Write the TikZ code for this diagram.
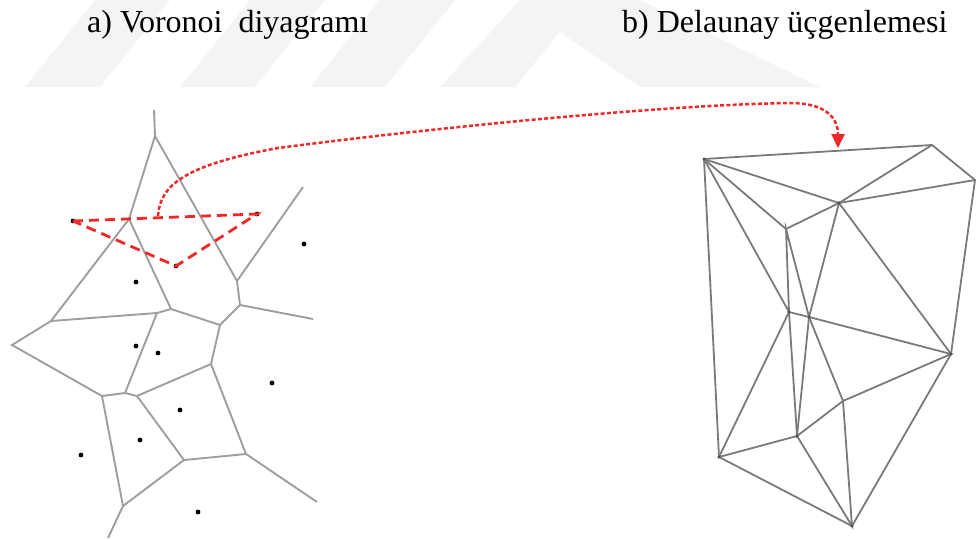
\documentclass[tikz,border=0pt]{standalone}
\usepackage{fontspec}
\setmainfont{Liberation Serif}
\usetikzlibrary{arrows.meta}
\definecolor{redc}{RGB}{240,40,40}
\definecolor{wm}{RGB}{244,244,244}
\begin{document}
\begin{tikzpicture}[x=1pt,y=-1pt,
  vedge/.style={draw=black!38, line width=1.9pt},
  dedge/.style={draw=black!52, line width=1.8pt},
  site/.style={circle, fill=black, inner sep=0pt, minimum size=4.8pt},
  dvert/.style={circle, fill=black!70, inner sep=0pt, minimum size=3.2pt},
  redtri/.style={draw=redc, line width=2.8pt, dash pattern=on 10pt off 6pt},
  redarc/.style={draw=redc, line width=2.5pt, dash pattern=on 4pt off 2.3pt},
  wmark/.style={fill=wm, draw=none},
  title/.style={font=\fontsize{32}{38}\selectfont, inner sep=0pt, anchor=base west}
]
\useasboundingbox (0,0) rectangle (976,539);
% watermark
\fill[wmark] (25,87) -- (100,87) -- (170,0) -- (95,0) -- cycle;
\fill[wmark] (180,87) -- (255,87) -- (325,0) -- (250,0) -- cycle;
\fill[wmark] (310,87) -- (385,87) -- (455,0) -- (380,0) -- cycle;
\fill[wmark] (440,87) -- (515,87) -- (560,32) -- (640,87) -- (820,87) -- (640,0) -- (520,0) -- cycle;
% titles
\node[title] (ta) at (87,32) {a) Voronoi\ \ diyagramı};
\node[title] (tb) at (622,32) {b) Delaunay üçgenlemesi};
% Voronoi vertices
\coordinate (v0) at (154,110);
\coordinate (v1) at (155,136);
\coordinate (v2) at (129,219);
\coordinate (v3) at (237,281);
\coordinate (r1) at (303,187);
\coordinate (v4) at (240,305);
\coordinate (r2) at (313,319);
\coordinate (v5) at (220,325);
\coordinate (v6) at (171,309);
\coordinate (v7) at (157,313);
\coordinate (v8) at (51,321);
\coordinate (v9) at (12,345);
\coordinate (v10) at (102,396);
\coordinate (v11) at (125,393);
\coordinate (v12) at (137,396);
\coordinate (v13) at (211,364);
\coordinate (v14) at (246,454);
\coordinate (r3) at (317,502);
\coordinate (v15) at (184,460);
\coordinate (v16) at (123,506);
\coordinate (r4) at (108,538);
\draw[vedge] (v0) -- (v1) -- (v2) -- (v8) -- (v9) -- (v10) -- (v11) -- (v12) -- (v13) -- (v5) -- (v4) -- (v3) -- (v1);
\draw[vedge] (v3) -- (r1);
\draw[vedge] (v4) -- (r2);
\draw[vedge] (v5) -- (v6) -- (v2);
\draw[vedge] (v6) -- (v7) -- (v8);
\draw[vedge] (v7) -- (v11);
\draw[vedge] (v13) -- (v14) -- (r3);
\draw[vedge] (v14) -- (v15) -- (v12);
\draw[vedge] (v15) -- (v16) -- (v10);
\draw[vedge] (v16) -- (r4);
% sites
\node[site] (s1) at (73,221) {};
\node[site] (s2) at (257,214) {};
\node[site] (s3) at (176,266) {};
\node[site] (s4) at (304,244) {};
\node[site] (s5) at (136,282) {};
\node[site] (s6) at (136,346) {};
\node[site] (s7) at (158,353) {};
\node[site] (s8) at (272,383) {};
\node[site] (s9) at (180,410) {};
\node[site] (s10) at (140,440) {};
\node[site] (s11) at (81,455) {};
\node[site] (s12) at (198,512) {};
% Delaunay vertices
\coordinate (d1) at (704,159);
\coordinate (d2) at (932,145);
\coordinate (d3) at (975,180);
\coordinate (d4) at (839,203);
\coordinate (d5) at (786,229);
\coordinate (d6) at (789,312);
\coordinate (d7) at (809,317);
\coordinate (d8) at (951,354);
\coordinate (d9) at (797,436);
\coordinate (d10) at (719,457);
\coordinate (d11) at (852,526);
\coordinate (d12) at (843,401);
\draw[dedge] (d1) -- (d2) -- (d3) -- (d8) -- (d11) -- (d10) -- (d1);
\draw[dedge] (d1) -- (d4) -- (d2);
\draw[dedge] (d3) -- (d4) -- (d5) -- (d1);
\draw[dedge] (d1) -- (d6) -- (d5) -- (d7) -- (d4) -- (d8);
\draw[dedge] (d6) -- (d7) -- (d8) -- (d12) -- (d7);
\draw[dedge] (d6) -- (d10) -- (d9) -- (d6);
\draw[dedge] (d7) -- (d9) -- (d12) -- (d11) -- (d9);
\foreach \d in {d1,d4,d6,d7,d8,d9,d10,d11}{\node[dvert] at (\d) {};}
% red triangle and arrow
\draw[redtri] (s1.center) -- (s2.center) -- (s3.center) -- cycle;
\coordinate (cstart) at (158,216);
\coordinate (ctip) at (838,148);
\draw[redarc, -{Triangle[length=14pt,width=13pt]}] (cstart) .. controls (160,185) and (185,165) .. (278,148) .. controls (400,132) and (650,105) .. (790,103) .. controls (826,103) and (838,118) .. (ctip);
\end{tikzpicture}
\end{document}
